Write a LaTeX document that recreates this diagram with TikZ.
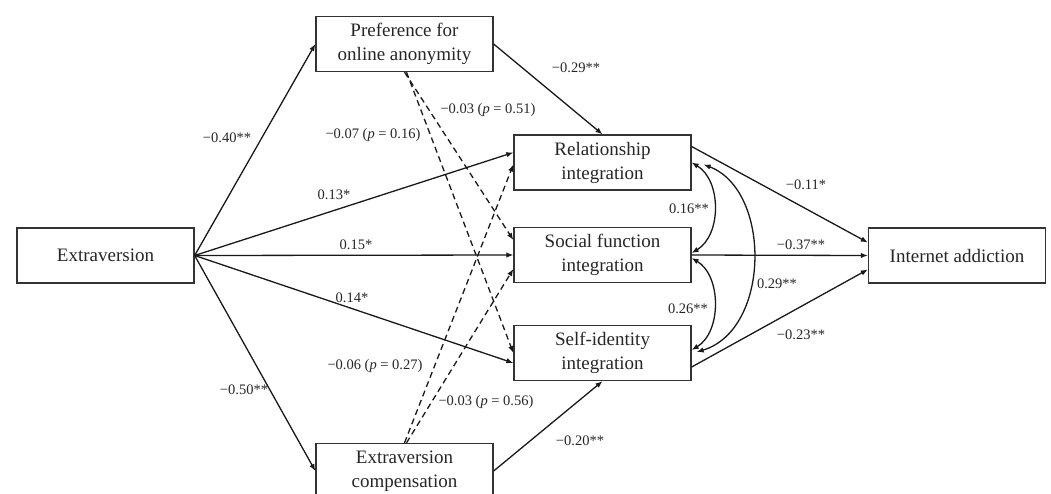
\documentclass[tikz,border=0pt]{standalone}
\usepackage{fontspec}
\setmainfont{Liberation Serif}
\usetikzlibrary{arrows.meta,calc}
\begin{document}
\begin{tikzpicture}[x=1pt,y=-1pt,
  box/.style={draw=black!80,line width=1.3pt,minimum width=177pt,minimum height=55pt,inner sep=0pt,align=center,text=black!85,font=\fontsize{19}{24}\selectfont},
  lbl/.style={inner sep=0pt,text=black!85,font=\fontsize{14.5}{17}\selectfont},
  path/.style={line width=1.3pt,black!90,-{Latex[length=7pt,width=5.5pt]}},
  dpath/.style={path,dash pattern=on 6pt off 4pt},
  cov/.style={line width=1.3pt,black!90,{Latex[length=7pt,width=5.5pt]}-{Latex[length=7pt,width=5.5pt]}}]
\useasboundingbox (0,0) rectangle (1051,493);
% boxes
\node[box] (E) at (105.5,255.5) {Extraversion};
\node[box] (P) at (404.5,44) {Preference for\\online anonymity};
\node[box] (R) at (602.5,162.5) {Relationship\\integration};
\node[box] (S) at (602.5,255) {Social function\\integration};
\node[box] (I) at (602.5,353) {Self-identity\\integration};
\node[box] (C) at (404.5,471) {Extraversion\\compensation};
\node[box] (A) at (957,255.5) {Internet addiction};
% paths from extraversion
\draw[path] (E.east) -- (P.west);
\draw[path] (E.east) -- (C.west);
\draw[path] (E.east) -- ([yshift=10pt]R.west);
\draw[path] (E.east) -- (S.west);
\draw[path] (E.east) -- ([yshift=-10pt]I.west);
% dashed paths
\draw[dpath] (P.south) -- ([yshift=15pt]S.west);
\draw[dpath] ([xshift=2pt]P.south) -- (I.west);
\draw[dpath] (C.north) -- ([yshift=-2pt]R.west);
\draw[dpath] ([xshift=2pt]C.north) -- ([yshift=-14pt]S.west);
% mediator paths
\draw[path] (P.east) -- (R.north);
\draw[path] (C.east) -- (I.south);
\draw[path] ([yshift=16pt]R.east) -- ([yshift=13pt]A.west);
\draw[path] (S.east) -- (A.west);
\draw[path] ([yshift=-14pt]I.east) -- ([yshift=-14pt]A.west);
% covariances
\draw[cov] (R.east) .. controls +(30,18) and +(30,-18) .. ([yshift=2pt]S.east);
\draw[cov] ([yshift=-3pt]S.east) .. controls +(30,18) and +(30,-18) .. ([yshift=3pt]I.east);
\draw[cov] ([xshift=12pt,yshift=-2pt]R.east) .. controls +(68,26) and +(74,-22) .. ([xshift=5pt,yshift=1pt]I.east);
% labels
\node[lbl] (l1) at (227,138) {−0.40**};
\node[lbl] (l2) at (334,195) {0.13*};
\node[lbl] (l3) at (356,245) {0.15*};
\node[lbl] (l4) at (352,298) {0.14*};
\node[lbl] (l5) at (244,390) {−0.50**};
\node[lbl] (l6) at (488,110) {−0.03 (\textit{p} = 0.51)};
\node[lbl] (l7) at (373,135) {−0.07 (\textit{p} = 0.16)};
\node[lbl] (l8) at (375,366) {−0.06 (\textit{p} = 0.27)};
\node[lbl] (l9) at (486,402) {−0.03 (\textit{p} = 0.56)};
\node[lbl] (l10) at (576,68) {−0.29**};
\node[lbl] (l11) at (580,441) {−0.20**};
\node[lbl] (l12) at (806,185) {−0.11*};
\node[lbl] (l13) at (801,245) {−0.37**};
\node[lbl] (l14) at (801,335) {−0.23**};
\node[lbl] (l15) at (689,209) {0.16**};
\node[lbl] (l16) at (688,309) {0.26**};
\node[lbl] (l17) at (777,284) {0.29**};
\end{tikzpicture}
\end{document}
